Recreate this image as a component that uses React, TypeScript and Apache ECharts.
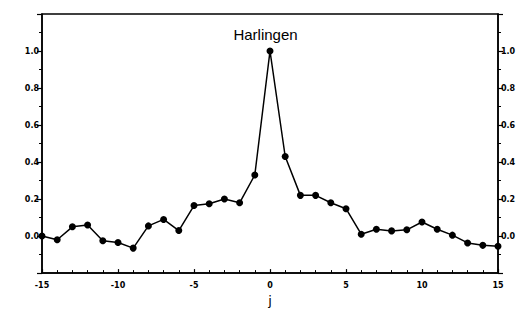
import React, { useEffect, useRef } from "react";
import * as echarts from "echarts";

const lags = [-15, -14, -13, -12, -11, -10, -9, -8, -7, -6, -5, -4, -3, -2, -1, 0, 1, 2, 3, 4, 5, 6, 7, 8, 9, 10, 11, 12, 13, 14, 15];
const corr = [0.0, -0.02, 0.05, 0.06, -0.025, -0.035, -0.065, 0.055, 0.09, 0.03, 0.165, 0.175, 0.2, 0.18, 0.33, 1.0, 0.43, 0.22, 0.22, 0.18, 0.148, 0.01, 0.037, 0.028, 0.034, 0.076, 0.037, 0.005, -0.037, -0.05, -0.055];
const titleText = "Harlingen";
const xName = "j";

export default function App() {
  const ref = useRef<HTMLDivElement>(null);
  useEffect(() => {
    if (!ref.current) return;
    const chart = echarts.init(ref.current, undefined, { renderer: "svg" });
    const labelStyle = { fontFamily: "DejaVu Sans", fontSize: 8, fontWeight: "bold" as const, color: "#000" };
    const yAx = (pos: "left" | "right") => ({
      type: "value" as const,
      position: pos,
      min: -0.2,
      max: 1.2,
      interval: 0.2,
      axisLine: { show: true, onZero: false, lineStyle: { color: "#000", width: 1.5 } },
      axisTick: { show: true, inside: false, length: 5, lineStyle: { color: "#000", width: 1.2 } },
      minorTick: { show: true, splitNumber: 2, length: 3, lineStyle: { color: "#000", width: 1 } },
      splitLine: { show: false },
      axisLabel: {
        ...labelStyle,
        margin: 3,
        formatter: (v: number) => (v < -0.01 || v > 1.01 ? "" : v.toFixed(1)),
      },
    });
    chart.setOption({
      animation: false,
      title: {
        text: titleText,
        left: "center",
        top: 22,
        textStyle: { fontFamily: "Liberation Sans", fontSize: 15, fontWeight: "normal", color: "#000" },
      },
      grid: { left: 42, right: 33, top: 14, bottom: 37, show: true, borderColor: "#000", borderWidth: 1.5 },
      xAxis: {
        type: "value",
        min: -15,
        max: 15,
        interval: 5,
        name: xName,
        nameLocation: "middle",
        nameGap: 16,
        nameTextStyle: { fontFamily: "DejaVu Sans", fontSize: 13, color: "#000" },
        axisLine: { show: true, onZero: false, lineStyle: { color: "#000", width: 1.5 } },
        axisTick: { show: true, inside: true, length: 4, lineStyle: { color: "#000", width: 1.2 } },
        minorTick: { show: true, splitNumber: 5, length: 3, lineStyle: { color: "#000", width: 1 } },
        splitLine: { show: false },
        axisLabel: { ...labelStyle, margin: 8 },
      },
      yAxis: [yAx("left"), yAx("right")],
      series: [
        {
          type: "line",
          yAxisIndex: 0,
          data: lags.map((l, i) => [l, corr[i]]),
          symbol: "circle",
          symbolSize: 7,
          lineStyle: { color: "#000", width: 1.5 },
          itemStyle: { color: "#000" },
        },
      ],
    });
    return () => chart.dispose();
  }, []);
  return <div ref={ref} style={{ width: 531, height: 312, position: "absolute", left: 0, top: 0, background: "#fff" }} />;
}
